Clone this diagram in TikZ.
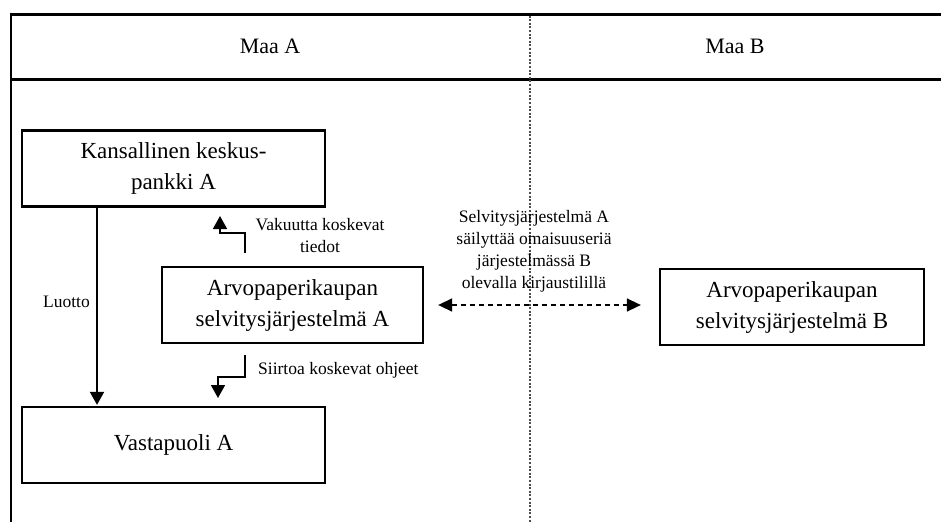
\documentclass[tikz,border=0pt]{standalone}
\usepackage{fontspec}
\setmainfont{Liberation Serif}
\usetikzlibrary{arrows.meta,calc}
\begin{document}
\begin{tikzpicture}[x=1pt,y=-1pt,
  box/.style={draw=black,line width=2.3pt,minimum width=303pt,minimum height=76pt,
    align=center,font=\fontsize{23}{31}\selectfont,inner sep=0pt},
  lbl/.style={align=center,font=\fontsize{17.5}{22}\selectfont,inner sep=0pt},
  head/.style={font=\fontsize{22}{26}\selectfont,inner sep=0pt},
  frame/.style={line width=3pt,black},
  tipb/.style={-{Triangle[length=13pt,width=14pt]}},
  elbow/.style={line width=1.6pt,tipb},
]
\useasboundingbox (0,0) rectangle (941,522);
% frame
\draw[frame] (9.5,14) -- (941,14);
\draw[frame] (9.5,79) -- (941,79);
\draw[line width=2.8pt] (11,12.5) -- (11,522);
\draw[line width=1.3pt,black!70,dash pattern=on 2pt off 1.6pt] (530,15.5) -- (530,522);
\node[head] (ma) at (270,46) {Maa A};
\node[head] (mb) at (735,46) {Maa B};
% boxes
\node[box] (kb) at (173.5,168.5) {Kansallinen keskus-\\pankki A};
\node[box,minimum width=261pt] (aa) at (292.5,305) {Arvopaperikaupan\\selvitysjärjestelmä A};
\node[box,minimum width=264pt] (ab) at (792,307) {Arvopaperikaupan\\selvitysjärjestelmä B};
\node[box] (vp) at (173.5,445) {Vastapuoli A};
% Luotto
\draw[line width=2pt,tipb] (kb.south -| 97,0) -- ($(vp.north -| 97,0)+(0,-1)$);
\node[lbl,anchor=east] (lu) at (90,302) {Luotto};
% Vakuutta
\coordinate (v0) at (245,253);
\draw[elbow] (v0) -- (245,233) -- (220,233) -- (220,216);
\node[lbl] (vk) at (320,236) {Vakuutta koskevat\\tiedot};
% Siirtoa
\coordinate (s0) at (245,355);
\draw[elbow] (s0) -- (245,377) -- (218,377) -- (218,398);
\node[lbl,anchor=west] (si) at (258,370) {Siirtoa koskevat ohjeet};
% dashed double arrow
\draw[line width=1.6pt,dash pattern=on 5pt off 4pt,
  {Triangle[length=14pt,width=13pt]}-{Triangle[length=14pt,width=13pt]}]
  ($(aa.east)+(14,0)$) -- ($(ab.west |- aa.east)+(-18,0)$);
\node[lbl] (sj) at (534,251.5) {Selvitysjärjestelmä A\\säilyttää omaisuuseriä\\järjestelmässä B\\olevalla kirjaustilillä};
\end{tikzpicture}
\end{document}
